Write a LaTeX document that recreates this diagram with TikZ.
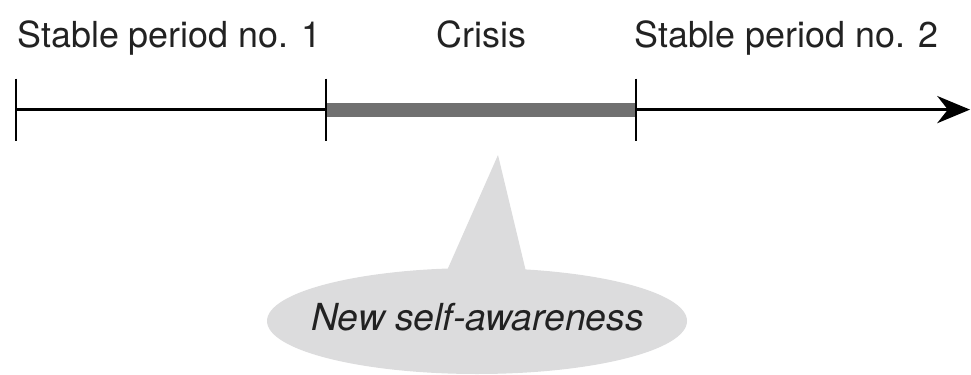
\documentclass[tikz,border=0pt]{standalone}
\usepackage{fontspec}
\setmainfont{TeX Gyre Heros}
\usetikzlibrary{arrows.meta,shapes.geometric}
\definecolor{bargray}{RGB}{112,112,112}
\definecolor{bubblegray}{RGB}{220,220,221}
\definecolor{textgray}{RGB}{34,34,34}

\begin{document}
\begin{tikzpicture}[auto,
   tick/.style={line width=2pt},
   bubble/.style={ellipse,fill=bubblegray,minimum width=10.5cm,minimum height=2.65cm,inner sep=0pt}]
   \useasboundingbox (0,0) rectangle (24.275,-9.35);
   \coordinate (t1) at (0.4,-2.74);
   \coordinate (t2) at (8.15,-2.74);
   \coordinate (t3) at (15.9,-2.74);
   \coordinate (end) at (24.25,-2.74);
   \coordinate (tip) at (12.45,-3.875);
   \begin{scope}[every node/.style={anchor=base,inner sep=0pt,text=textgray,font=\fontsize{25.5}{30}\selectfont}]
    \node (p1) at (4.24,-1.175) {Stable period no. 1};
    \node (c) at (12.04,-1.175) {Crisis};
    \node (p2) at (19.66,-1.175) {Stable period no. 2};
   \end{scope}
   \draw [line width=1.8pt,-{Stealth[length=0.82cm,width=0.68cm]}] (t1) -- (end);
   \draw [line width=0.35cm,draw=bargray] (t2) -- (t3);
   \draw [tick] ([yshift=0.775cm]t1) -- ([yshift=-0.775cm]t1);
   \draw [tick] ([yshift=0.775cm]t2) -- ([yshift=-0.775cm]t2);
   \draw [tick] ([yshift=0.775cm]t3) -- ([yshift=-0.775cm]t3);
   \node [bubble] (bubble) at (11.925,-8.025) {};
   \fill [bubblegray] (11.07,-7.0) -- (tip) -- (13.2,-7.0) -- cycle;
   \node [anchor=base,inner sep=0pt,text=textgray,font=\fontsize{26.5}{31}\selectfont\itshape] (aware) at (11.94,-8.25) {New self-awareness};
\end{tikzpicture}
\end{document}
